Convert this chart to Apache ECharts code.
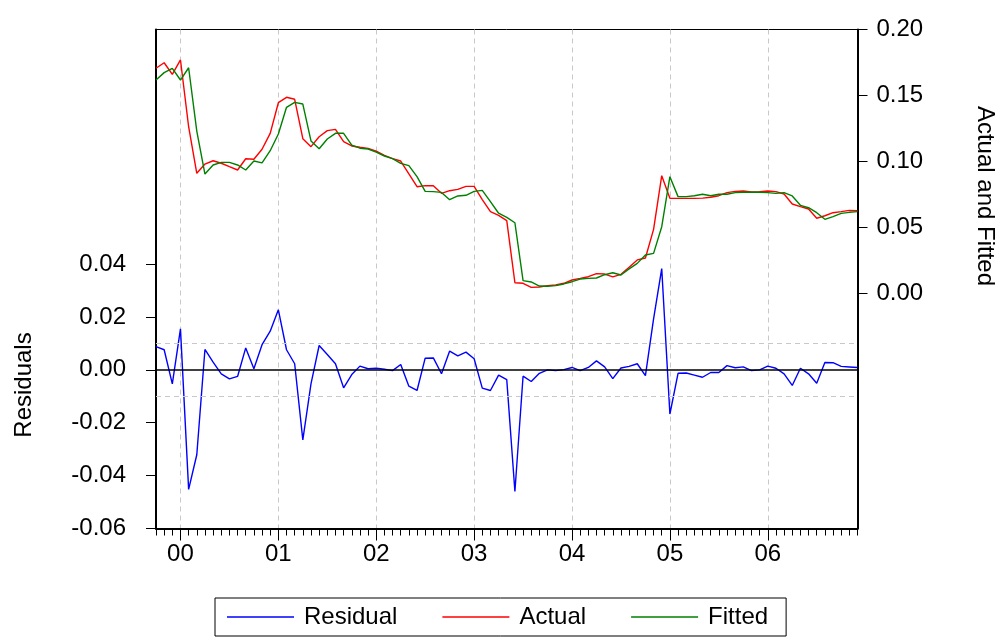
<!DOCTYPE html>
<html>
<head>
<meta charset="utf-8">
<script src="https://cdn.jsdelivr.net/npm/echarts@6/dist/echarts.min.js"></script>
<style>
  html, body { margin: 0; padding: 0; background: #fff; }
  #chart { width: 997px; height: 637px; }
</style>
</head>
<body>
<div id="chart"></div>
<script>
// monthly sample 1999M10 .. 2006M12
const startYear = 1999;
const startMonth = 10;
const nObs = 87;

const residual = [
    0.0088, 0.0076, -0.0053, 0.0155, -0.0452, -0.0321, 0.0077, 0.0029, -0.0015, -0.0034,
    -0.0025, 0.0083, 0.0004, 0.0095, 0.0146, 0.0227, 0.0076, 0.0023, -0.0265, -0.0053,
    0.0092, 0.0058, 0.0023, -0.0068, -0.0018, 0.0014, 0.0004, 0.0006, 0.0002, -0.0003,
    0.0020, -0.0062, -0.0078, 0.0044, 0.0045, -0.0015, 0.0071, 0.0053, 0.0067, 0.0042,
    -0.0069, -0.0078, -0.0020, -0.0037, -0.0460, -0.0024, -0.0044, -0.0013, 0.0000, -0.0003,
    0.0001, 0.0009, -0.0003, 0.0009, 0.0034, 0.0011, -0.0033, 0.0007, 0.0013, 0.0023,
    -0.0022, 0.0193, 0.0383, -0.0167, -0.0013, -0.0012, -0.0020, -0.0028, -0.0010, -0.0010,
    0.0016, 0.0008, 0.0011, -0.0003, 0.0000, 0.0014, 0.0006, -0.0015, -0.0059, 0.0006,
    -0.0015, -0.0051, 0.0028, 0.0027, 0.0013, 0.0011, 0.0009
];

const actual = [
    0.1706, 0.1748, 0.1660, 0.1769, 0.1263, 0.0910, 0.0980, 0.1005, 0.0986, 0.0960,
    0.0935, 0.1020, 0.1016, 0.1092, 0.1213, 0.1445, 0.1486, 0.1471, 0.1172, 0.1112,
    0.1187, 0.1233, 0.1243, 0.1150, 0.1117, 0.1107, 0.1099, 0.1077, 0.1046, 0.1021,
    0.1003, 0.0906, 0.0808, 0.0816, 0.0816, 0.0758, 0.0778, 0.0788, 0.0811, 0.0811,
    0.0711, 0.0619, 0.0591, 0.0551, 0.0080, 0.0076, 0.0045, 0.0048, 0.0058, 0.0063,
    0.0076, 0.0101, 0.0113, 0.0126, 0.0149, 0.0146, 0.0124, 0.0144, 0.0197, 0.0253,
    0.0268, 0.0485, 0.0892, 0.0720, 0.0720, 0.0720, 0.0720, 0.0722, 0.0728, 0.0740,
    0.0763, 0.0773, 0.0776, 0.0768, 0.0771, 0.0776, 0.0771, 0.0753, 0.0677, 0.0657,
    0.0639, 0.0569, 0.0588, 0.0611, 0.0619, 0.0629, 0.0627
];

const fitted = [
    0.1617, 0.1673, 0.1706, 0.1617, 0.1710, 0.1230, 0.0904, 0.0973, 0.0993, 0.0993,
    0.0973, 0.0935, 0.1003, 0.0989, 0.1081, 0.1208, 0.1410, 0.1448, 0.1435, 0.1155,
    0.1096, 0.1170, 0.1213, 0.1213, 0.1124, 0.1100, 0.1094, 0.1071, 0.1041, 0.1021,
    0.0985, 0.0968, 0.0884, 0.0773, 0.0771, 0.0765, 0.0710, 0.0738, 0.0743, 0.0773,
    0.0780, 0.0695, 0.0607, 0.0576, 0.0535, 0.0096, 0.0086, 0.0055, 0.0053, 0.0058,
    0.0071, 0.0088, 0.0108, 0.0113, 0.0116, 0.0141, 0.0156, 0.0139, 0.0185, 0.0227,
    0.0290, 0.0303, 0.0505, 0.0884, 0.0733, 0.0733, 0.0740, 0.0751, 0.0740, 0.0751,
    0.0751, 0.0763, 0.0766, 0.0766, 0.0766, 0.0763, 0.0758, 0.0763, 0.0738, 0.0667,
    0.0649, 0.0611, 0.0561, 0.0581, 0.0606, 0.0614, 0.0619
];

const residTicks = [-0.06, -0.04, -0.02, 0.00, 0.02, 0.04];
const fitTicks = [0.00, 0.05, 0.10, 0.15, 0.20];
const residBand = 0.0112;

const months = [];
for (let i = 0; i < nObs; i++) {
    const k = startMonth - 1 + i;
    months.push((startYear + Math.floor(k / 12)) + 'M' + (k % 12 + 1));
}

const FONT = "'Liberation Sans', Arial, sans-serif";
const isJan = (idx) => months[idx] && months[idx].endsWith('M1');
const gridGray = '#c8c8c8';

const chartOpt = () => {
    return {
        animation: false,
        backgroundColor: '#fff',
        textStyle: { fontFamily: FONT },
        grid: {
            left: 156, right: 139.5, top: 29.5, bottom: 108.5,
            show: true, borderColor: '#000', borderWidth: 1
        },
        legend: {
            left: 215, top: 598,
            padding: [7, 18, 7, 12],
            borderColor: '#000', borderWidth: 1,
            itemGap: 45, itemWidth: 67, itemHeight: 1.5,
            icon: 'rect',
            textStyle: { fontSize: 24, color: '#000', fontFamily: FONT, padding: [0, 0, 0, 5] },
            data: ['Residual', 'Actual', 'Fitted']
        },
        xAxis: [
            {
                type: 'category', data: months, boundaryGap: false,
                axisLine: { onZero: false, lineStyle: { color: '#000', width: 2 } },
                axisTick: { interval: 0, length: 7, lineStyle: { color: '#000', width: 1 } },
                axisLabel: { show: false },
                splitLine: {
                    show: true,
                    interval: (idx) => isJan(idx),
                    lineStyle: { color: gridGray, type: [5, 4], width: 1 }
                }
            },
            {
                type: 'category', data: months, boundaryGap: false, position: 'bottom',
                axisLine: { show: false, onZero: false },
                axisTick: { interval: (idx) => isJan(idx), length: 12, lineStyle: { color: '#000', width: 1 } },
                axisLabel: {
                    interval: (idx) => isJan(idx),
                    formatter: (v) => v.slice(2, 4),
                    fontSize: 24, color: '#000', margin: 14, fontFamily: FONT
                },
                splitLine: { show: false }
            }
        ],
        yAxis: [
            {
                type: 'value', position: 'left', min: -0.06, max: 0.1287,
                axisLine: { show: true, onZero: false, lineStyle: { color: '#000', width: 2 } },
                axisTick: { show: true, customValues: residTicks, length: 10, lineStyle: { color: '#000' } },
                axisLabel: {
                    customValues: residTicks,
                    formatter: (v) => v.toFixed(2),
                    fontSize: 24, color: '#000', margin: 30,
                    padding: [0, 0, 12, 0], fontFamily: FONT
                },
                splitLine: { show: false }
            },
            {
                type: 'value', position: 'right', min: -0.1783, max: 0.20,
                axisLine: { show: true, onZero: false, lineStyle: { color: '#000', width: 2 } },
                axisTick: { show: true, customValues: fitTicks, length: 10, lineStyle: { color: '#000' } },
                axisLabel: {
                    customValues: fitTicks,
                    formatter: (v) => v.toFixed(2),
                    fontSize: 24, color: '#000', margin: 19,
                    padding: [0, 0, 12, 0], fontFamily: FONT
                },
                splitLine: { show: false }
            }
        ],
        graphic: [
            {
                type: 'text', x: 24, y: 385, rotation: Math.PI / 2,
                style: { text: 'Residuals', font: '24px ' + FONT, fill: '#000', align: 'center', verticalAlign: 'middle' }
            },
            {
                type: 'text', x: 985, y: 196, rotation: -Math.PI / 2,
                style: { text: 'Actual and Fitted', font: '24px ' + FONT, fill: '#000', align: 'center', verticalAlign: 'middle' }
            }
        ],
        series: [
            {
                name: 'Residual', type: 'line', data: residual,
                xAxisIndex: 0, yAxisIndex: 0,
                symbol: 'none', color: '#0000ff',
                lineStyle: { color: '#0000ff', width: 1.4 },
                markLine: {
                    silent: true, symbol: 'none', label: { show: false },
                    data: [
                        { yAxis: residBand, lineStyle: { color: gridGray, type: [5, 4], width: 1 } },
                        { yAxis: -residBand, lineStyle: { color: gridGray, type: [5, 4], width: 1 } },
                        { yAxis: 0, lineStyle: { color: '#000', type: 'solid', width: 1.5 } }
                    ]
                }
            },
            {
                name: 'Actual', type: 'line', data: actual,
                xAxisIndex: 0, yAxisIndex: 1,
                symbol: 'none', color: '#ff0000',
                lineStyle: { color: '#ff0000', width: 1.4 }
            },
            {
                name: 'Fitted', type: 'line', data: fitted,
                xAxisIndex: 0, yAxisIndex: 1,
                symbol: 'none', color: '#008000',
                lineStyle: { color: '#008000', width: 1.4 }
            }
        ]
    };
};

const chart = echarts.init(document.getElementById('chart'), null, { renderer: 'canvas' });
chart.setOption(chartOpt());
</script>
</body>
</html>
